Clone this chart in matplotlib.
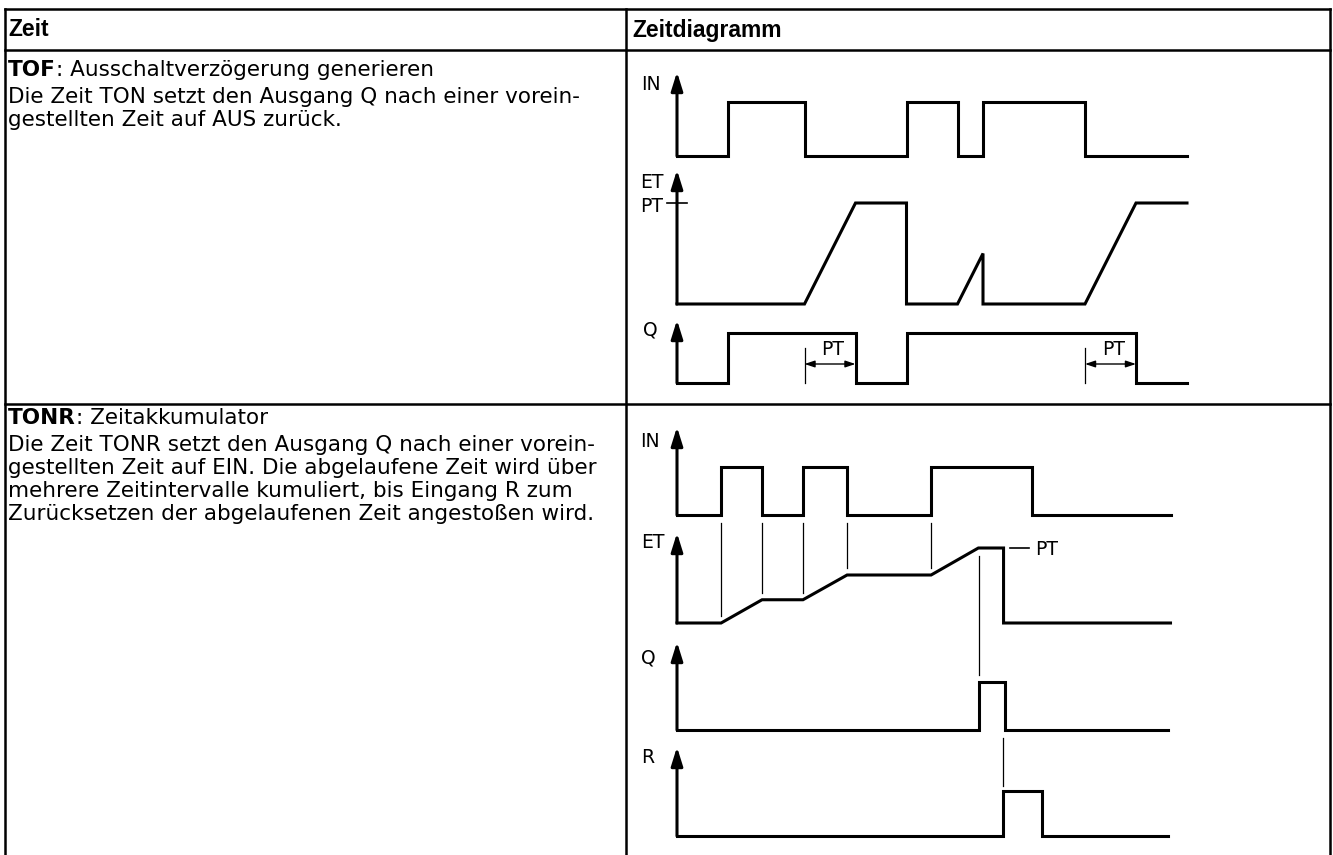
import numpy as np
import matplotlib.pyplot as plt

plt.rcParams['font.family'] = ['DejaVu Sans']

# table texts
header = ["Zeit", "Zeitdiagramm"]
tof_title = ["TOF", ": Ausschaltverzögerung generieren"]
tof_lines = ["Die Zeit TON setzt den Ausgang Q nach einer vorein-",
             "gestellten Zeit auf AUS zurück."]
tonr_title = ["TONR", ": Zeitakkumulator"]
tonr_lines = ["Die Zeit TONR setzt den Ausgang Q nach einer vorein-",
              "gestellten Zeit auf EIN. Die abgelaufene Zeit wird über",
              "mehrere Zeitintervalle kumuliert, bis Eingang R zum",
              "Zurücksetzen der abgelaufenen Zeit angestoßen wird."]

# TOF signals (time units, level 0..1)
tof_in_t = [0, 2, 2, 5, 5, 9, 9, 11, 11, 12, 12, 16, 16, 20]
tof_in_v = [0, 0, 1, 1, 0, 0, 1, 1, 0, 0, 1, 1, 0, 0]
tof_et_t = [0, 5, 7, 9, 9, 11, 12, 12, 16, 18, 20]
tof_et_v = [0, 0, 1, 1, 0, 0, 0.5, 0, 0, 1, 1]
tof_q_t = [0, 2, 2, 7, 7, 9, 9, 18, 18, 20]
tof_q_v = [0, 0, 1, 1, 0, 0, 1, 1, 0, 0]
tof_pt = [(5, 7), (16, 18)]

# TONR signals
tonr_in_t = [0, 2.1, 2.1, 4.05, 4.05, 6.0, 6.0, 8.1, 8.1, 12.1, 12.1, 16.9, 16.9, 23.5]
tonr_in_v = [0, 0, 1, 1, 0, 0, 1, 1, 0, 0, 1, 1, 0, 0]
tonr_et_t = [0, 2.1, 4.05, 6.0, 8.1, 12.1, 14.35, 15.55, 15.55, 23.5]
tonr_et_v = [0, 0, 0.31, 0.31, 0.64, 0.64, 1, 1, 0, 0]
tonr_q_t = [0, 14.4, 14.4, 15.6, 15.6, 23.4]
tonr_q_v = [0, 0, 1, 1, 0, 0]
tonr_r_t = [0, 15.5, 15.5, 17.4, 17.4, 23.4]
tonr_r_v = [0, 0, 1, 1, 0, 0]
tonr_marks = [2.1, 4.05, 6.0, 8.1, 12.1]

W, H = 1333, 855
fig = plt.figure(figsize=(W / 100, H / 100), dpi=100)
ax = fig.add_axes([0, 0, 1, 1])
ax.set_xlim(0, W)
ax.set_ylim(H, 0)
ax.axis('off')

LW = 2.2
FS = 15.5

# table grid
L, M, R, T, HB, SEP = 5, 626, 1330, 9, 50, 404
for y in (T, HB, SEP):
    ax.plot([L, R], [y, y], color='black', lw=1.8)
for x in (L, M, R):
    ax.plot([x, x], [T, H + 2], color='black', lw=1.8)

hfam = ['Liberation Sans Narrow', 'Liberation Sans', 'DejaVu Sans']
ax.text(8, 30, header[0], fontsize=16.5, fontweight='bold', va='center', family=hfam)
ax.text(632, 30, header[1], fontsize=16.5, fontweight='bold', va='center', family=hfam)


def title(y, parts):
    t = ax.text(8, y, parts[0], fontsize=FS, fontweight='bold', va='center')
    ax.annotate(parts[1], xy=(1, 0), xycoords=t, fontsize=FS, va='bottom', ha='left')


def lines(y0, txt):
    for i, s in enumerate(txt):
        ax.text(8, y0 + i * 23, s, fontsize=FS, va='center')


title(70, tof_title)
lines(97, tof_lines)
title(418, tonr_title)
lines(445, tonr_lines)


def trace(x0, unit, base, h, t, v):
    ax.plot(x0 + np.array(t) * unit, base - np.array(v) * h, color='black', lw=LW,
            solid_joinstyle='miter', solid_capstyle='projecting')


def axis_arrow(x, base, top, label, lx, ly):
    ax.annotate('', xy=(x, top), xytext=(x, base),
                arrowprops=dict(arrowstyle='-|>,head_length=0.8,head_width=0.25', lw=LW,
                                color='black', mutation_scale=14, shrinkA=0, shrinkB=0))
    ax.text(lx, ly, label, fontsize=13.5, va='center', ha='left')


def vline(x, y1, y2):
    ax.plot([x, x], [y1, y2], color='black', lw=0.9)


# ---- TOF diagram
X0, U = 677, 25.5
axis_arrow(X0, 156, 72, 'IN', 641, 84)
axis_arrow(X0, 304, 170, 'ET', 640, 182)
axis_arrow(X0, 383, 320, 'Q', 643, 330)
ax.text(640, 206, 'PT', fontsize=13.5, va='center', ha='left')
ax.plot([667, 687], [203, 203], color='black', lw=1.2)
trace(X0, U, 156, 54, tof_in_t, tof_in_v)
trace(X0, U, 304, 101, tof_et_t, tof_et_v)
trace(X0, U, 383, 50, tof_q_t, tof_q_v)
for a, b in tof_pt:
    xa, xb = X0 + a * U, X0 + b * U
    vline(xa, 348, 383)
    ax.annotate('', xy=(xb, 364), xytext=(xa, 364),
                arrowprops=dict(arrowstyle='<|-|>,head_length=0.6,head_width=0.2', lw=1,
                                color='black', mutation_scale=10, shrinkA=0, shrinkB=0))
    ax.text((xa + xb) / 2 + 3, 349, 'PT', fontsize=13.5, va='center', ha='center')

# ---- TONR diagram
U2 = 21
axis_arrow(X0, 515, 427, 'IN', 640, 441)
axis_arrow(X0, 623, 533, 'ET', 641, 542)
axis_arrow(X0, 730, 642, 'Q', 641, 658)
axis_arrow(X0, 836, 747, 'R', 641, 757)
trace(X0, U2, 515, 48, tonr_in_t, tonr_in_v)
trace(X0, U2, 623, 75, tonr_et_t, tonr_et_v)
trace(X0, U2, 730, 48, tonr_q_t, tonr_q_v)
trace(X0, U2, 836, 45, tonr_r_t, tonr_r_v)
for m in tonr_marks:
    lvl = np.interp(m, tonr_et_t, tonr_et_v)
    vline(X0 + m * U2, 523, 623 - lvl * 75 - 7)
vline(X0 + tonr_q_t[1] * U2, 556, 675)
vline(X0 + tonr_r_t[1] * U2, 738, 786)
ax.plot([1010, 1029], [548, 548], color='black', lw=1.2)
ax.text(1035, 549, 'PT', fontsize=13.5, va='center', ha='left')

fig.savefig('out.png', dpi=100, facecolor='white')
